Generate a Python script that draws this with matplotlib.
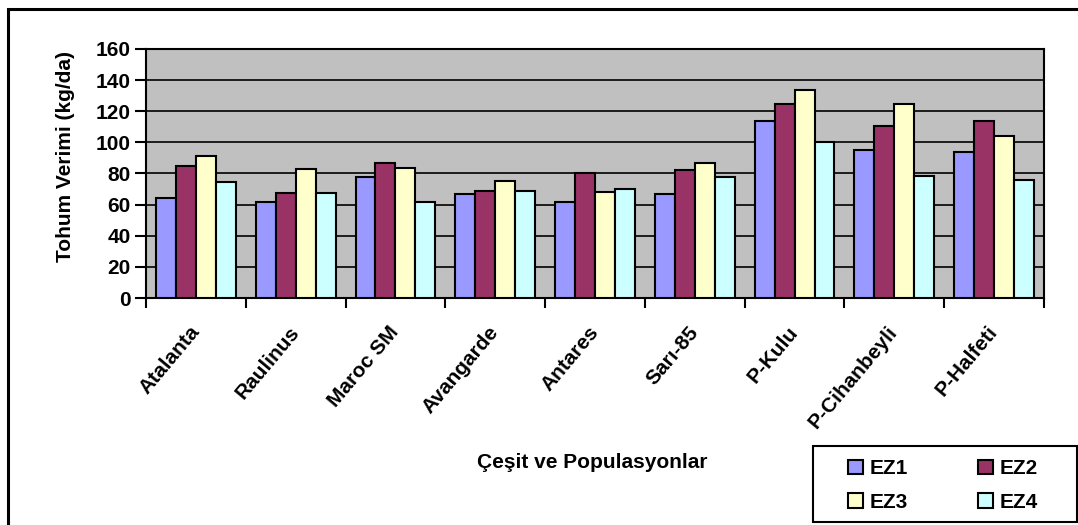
import numpy as np
import matplotlib
matplotlib.use("Agg")
from matplotlib import pyplot as plt
from matplotlib.patches import Rectangle

plt.rcParams['font.family'] = ['Liberation Sans', 'DejaVu Sans']
plt.rcParams['font.weight'] = 'bold'

cesitler = ['Atalanta', 'Raulinus', 'Maroc SM', 'Avangarde', 'Antares',
            'Sarı-85', 'P-Kulu', 'P-Cihanbeyli', 'P-Halfeti']
ez1 = [64, 62, 78, 67, 62, 67, 114, 95, 93.5]
ez2 = [84.5, 67.5, 86.5, 68.5, 80, 82, 124.5, 110.5, 113.5]
ez3 = [91.5, 83, 83.5, 75.5, 68, 87, 133.5, 124.5, 104]
ez4 = [74.5, 67.5, 61.5, 68.5, 70, 77.5, 100.5, 78.5, 76]
seriler = ['EZ1', 'EZ2', 'EZ3', 'EZ4']
renkler = ['#9999FF', '#993366', '#FFFFCC', '#CCFFFF']

fs = 15
fig = plt.figure(figsize=(10.78, 5.25), dpi=100)
W, H = 1078, 525
ax = fig.add_axes([146 / W, 1 - 298 / H, (1044 - 146) / W, (298 - 49) / H])
ax.set_facecolor('#C0C0C0')

x = np.arange(len(cesitler))
w = 0.2
bars = []
for k, (vals, c) in enumerate(zip([ez1, ez2, ez3, ez4], renkler)):
    b = ax.bar(x + (k - 1.5) * w, vals, w, color=c, edgecolor='black',
               linewidth=1.5, label=seriler[k], zorder=3)
    bars.append(b)

ax.set_xlim(-0.5, len(cesitler) - 0.5)
ax.set_ylim(0, 160)
ax.set_yticks(np.arange(0, 161, 20))
ax.yaxis.grid(True, color='black', linewidth=1.2, zorder=1)
ax.set_axisbelow(True)

ax.set_xticks(x)
ax.set_xticklabels(cesitler, rotation=50, ha='right', va='center',
                   rotation_mode='anchor', fontsize=fs, fontweight='bold')
ax.tick_params(axis='x', length=0, pad=22)
ax.set_xticks(np.arange(-0.5, len(cesitler), 1), minor=True)
ax.tick_params(axis='x', which='minor', length=7, width=1.5, direction='out')
ax.tick_params(axis='y', length=8, width=1.5, labelsize=fs, pad=3)
for lab in ax.get_yticklabels():
    lab.set_fontweight('bold')
for s in ax.spines.values():
    s.set_linewidth(1.5)
    s.set_color('black')

ax.set_ylabel('Tohum Verimi (kg/da)', fontsize=fs, fontweight='bold')
ax.yaxis.set_label_coords((75 - 146) / (1044 - 146), 0.568)
fig.text(592 / W, 1 - 462 / H, 'Çeşit ve Populasyonlar', ha='center',
         va='center', fontsize=fs, fontweight='bold')

# legend order row-wise: EZ1 EZ2 / EZ3 EZ4
order = [0, 2, 1, 3]
leg = fig.legend([bars[i] for i in order], [seriler[i] for i in order],
                 loc='upper left', bbox_to_anchor=(838 / W, 1 - 449 / H),
                 ncol=2, fontsize=fs, frameon=False,
                 handlelength=0.7, handleheight=0.7, borderpad=0,
                 columnspacing=3.4, labelspacing=0.7, handletextpad=0.3)
for t in leg.get_texts():
    t.set_fontweight('bold')
fig.patches.append(Rectangle((813 / W, 1 - 522 / H), (1077 - 813) / W,
                             (522 - 446) / H, transform=fig.transFigure,
                             fill=False, edgecolor='black', linewidth=1.5))

# outer chart frame
fig.patches.append(Rectangle((8 / W, -0.1), 1.2, 1.1 - 9 / H,
                             transform=fig.transFigure, fill=False,
                             edgecolor='black', linewidth=2.2))

fig.savefig('out.png', dpi=100)
